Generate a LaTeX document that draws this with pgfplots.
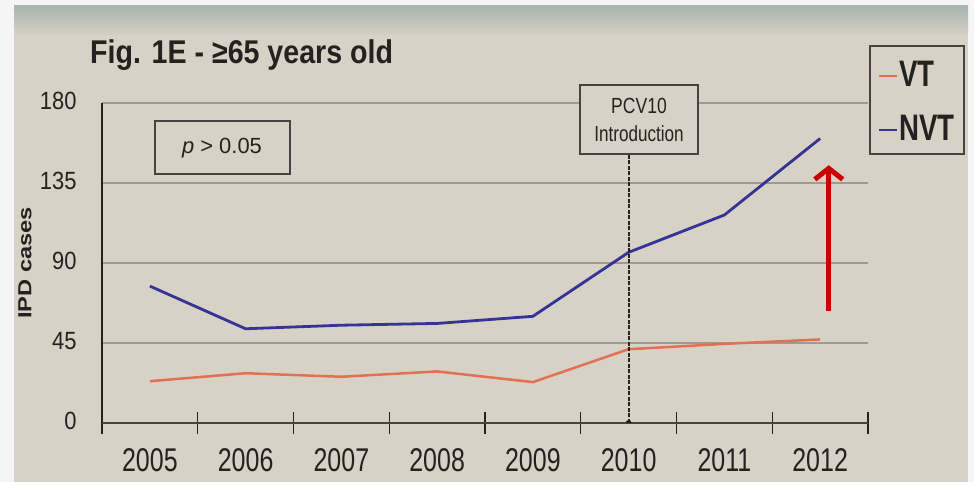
\documentclass[border=0pt]{standalone}
\usepackage{pgfplots}
\pgfplotsset{compat=1.18}
\usepackage{graphicx}
\usepackage{fontspec}
\setmainfont{Liberation Sans}
\usetikzlibrary{arrows.meta}

\definecolor{paper}{RGB}{216,209,198}
\definecolor{band}{RGB}{168,181,176}
\definecolor{ink}{RGB}{36,34,32}
\definecolor{gridc}{RGB}{160,154,146}
\definecolor{vtc}{RGB}{226,112,82}
\definecolor{nvtc}{RGB}{52,52,150}
\definecolor{arrowred}{RGB}{204,0,0}

\begin{document}
\begin{tikzpicture}[x=1bp,y=1bp]
\useasboundingbox (0,0) rectangle (974,482);
\fill[black!4] (0,0) rectangle (974,482);
\fill[paper] (14,0) rectangle (968,476);
\shade[top color=band, bottom color=paper] (14,446) rectangle (968,476);

\begin{axis}[
    at={(102bp,59bp)}, anchor=south west,
    scale only axis, width=766bp, height=320bp,
    xmin=-0.5, xmax=7.5, ymin=0, ymax=180,
    axis x line=bottom, axis y line=left,
    x axis line style={-, line width=2.5bp, color=ink!85},
    y axis line style={-, line width=1.3bp, color=ink},
    xtick={0,...,7},
    xticklabels={2005,2006,2007,2008,2009,2010,2011,2012},
    major x tick style={draw=none},
    minor xtick={-0.5,0.5,...,7.5},
    minor tick length=22bp, tick align=center,
    minor x tick style={line width=1.3bp, color=ink},
    xticklabel style={font=\fontsize{33}{33}\selectfont, xscale=0.76, text=ink, yshift=-20bp},
    ytick={0,45,90,135,180},
    major y tick style={draw=none},
    yticklabel style={font=\fontsize{25}{25}\selectfont, xscale=0.88, text=ink, xshift=-23bp, yshift=2bp},
    /pgf/number format/assume math mode=true,
    ymajorgrids, grid style={line width=1.3bp, color=gridc},
    ylabel={\scalebox{1.25}[1]{\bfseries IPD cases}},
    ylabel style={font=\fontsize{19}{19}\selectfont, text=ink, yshift=2bp},
    legend style={at={(rel axis cs:1.001,1.181)}, anchor=north west,
        draw=ink!85, line width=2bp, fill=none,
        font=\bfseries\fontsize{37}{37}\selectfont, text=ink,
        row sep=26bp, inner xsep=8bp, inner ysep=13bp,
        nodes={inner sep=1bp, text height=26bp, text depth=0bp}},
    legend cell align=left,
    legend image code/.code={\draw[#1, line width=2.5bp] (0bp,-3bp) -- (18bp,-3bp);},
]
\addplot[vtc, line width=2.5bp] coordinates {
 (0,23.5) (1,28) (2,26) (3,29) (4,23) (5,41.5) (6,44.5) (7,47)
};
\addlegendentry{\scalebox{0.75}[1]{VT}}
\addplot[nvtc, line width=2.8bp] coordinates {
 (0,77) (1,53) (2,55) (3,56) (4,60) (5,96) (6,117) (7,160)
};
\addlegendentry{\scalebox{0.75}[1]{NVT}}

\draw[ink, line width=2bp, dash pattern=on 4bp off 1.5bp] (axis cs:5,0) -- (axis cs:5,150.7);
\fill[ink] (axis cs:5,0) circle (3bp);
\draw[arrowred, line width=5bp, -{Straight Barb[length=11bp,width=28bp]}]
    (axis cs:7.09,63) -- (axis cs:7.09,145);
\end{axis}

\node[anchor=base west, font=\bfseries\fontsize{33}{33}\selectfont, text=ink, inner sep=0]
    at (90,418) {\scalebox{0.87}[1]{Fig. 1E - ≥65 years old}};
\node[draw=ink!85, line width=2bp, minimum width=135bp, minimum height=53bp,
      font=\fontsize{22}{22}\selectfont, text=ink] at (222,334) {\textit{p} > 0.05};
\node[draw=ink!85, line width=2bp, fill=paper, minimum width=118bp, minimum height=69bp,
      font=\fontsize{22}{29}\selectfont, text=ink, align=center] at (639,362)
    {\scalebox{0.8}[1]{PCV10}\\ \scalebox{0.78}[1]{Introduction}};
\end{tikzpicture}
\end{document}
